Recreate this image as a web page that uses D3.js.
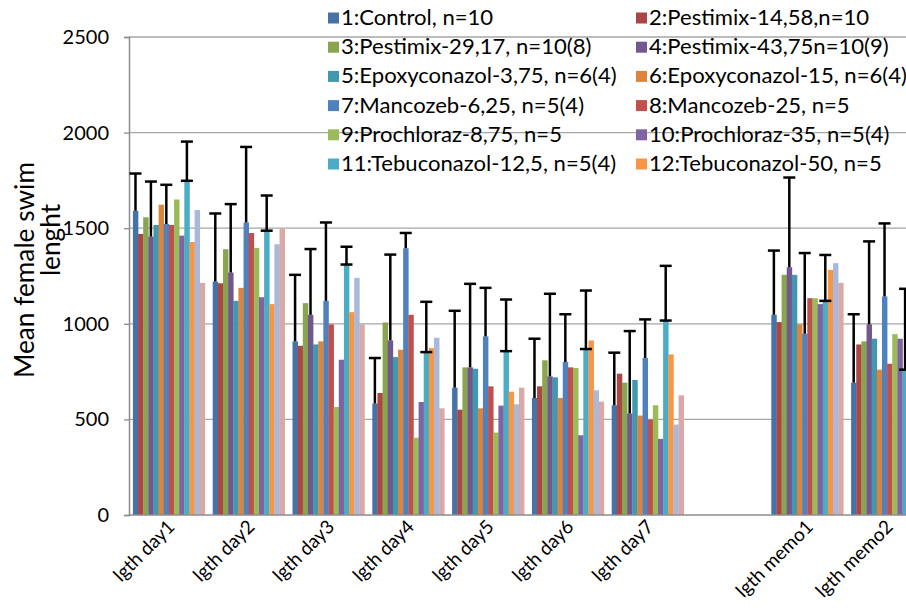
<!DOCTYPE html>
<html><head><meta charset="utf-8">
<script src="https://cdn.jsdelivr.net/npm/d3@7"></script>
<style>body{margin:0;background:#fff}svg{display:block}text{font-family:Lato,"Liberation Sans",sans-serif;fill:#000}</style>
</head><body>
<svg id="c" width="906" height="611"></svg>
<script>
const categories = ["lgth day1","lgth day2","lgth day3","lgth day4","lgth day5","lgth day6","lgth day7","","lgth memo1","lgth memo2"];
const seriesNames = ["1:Control, n=10","2:Pestimix-14,58,n=10","3:Pestimix-29,17, n=10(8)","4:Pestimix-43,75n=10(9)",
  "5:Epoxyconazol-3,75, n=6(4)","6:Epoxyconazol-15, n=6(4)","7:Mancozeb-6,25, n=5(4)","8:Mancozeb-25, n=5",
  "9:Prochloraz-8,75, n=5","10:Prochloraz-35, n=5(4)","11:Tebuconazol-12,5, n=5(4)","12:Tebuconazol-50, n=5","13","14"];
const s1  = [1591,1221, 908, 583, 666, 612, 574,null,1047, 692];
const s2  = [1470,1212, 885, 638, 551, 673, 739,null,1009, 892];
const s3  = [1557,1390,1108,1007, 772, 809, 692,null,1256, 908];
const s4  = [1456,1268,1047, 913, 772, 725, 531,null,1296, 997];
const s5  = [1517,1120, 892, 826, 765, 720, 706,null,1256, 922];
const s6  = [1623,1188, 908, 864, 558, 612, 520,null, 997, 760];
const s7  = [1522,1530,1120,1395, 934, 800, 821,null, 948,1143];
const s8  = [1517,1475, 997,1047, 673, 772, 499,null,1134, 791];
const s9  = [1650,1397, 565, 404, 431, 769, 574,null,1134, 946];
const s10 = [1461,1139, 812, 591, 572, 417, 398,null,1103, 922];
const s11 = [1748,1487,1310, 852, 857, 868,1017,null,1120, 760];
const s12 = [1428,1103,1061, 873, 645, 913, 840,null,1282,1040];
const s13 = [1595,1416,1240, 927, 579, 652, 473,null,1317, 900];
const s14 = [1214,1499, 997, 558, 666, 593, 626,null,1214, 850];
const seriesValues = [s1,s2,s3,s4,s5,s6,s7,s8,s9,s10,s11,s12,s13,s14];
// plus error amounts for series 1, 4, 7, 11
const err1  = [195,356,348,238,402,310,275,null,336,358];
const err4  = [288,358,344,449,437,432,431,null,469,434];
const err7  = [205,395,410, 80,254,250,202,null,422,382];
const err11 = [205,184, 93,263,270,306,286,null,240,423];
const errorSeries = [0,3,6,10];
const errorValues = [err1,err4,err7,err11];
const yTicks = [0,500,1000,1500,2000,2500];
const legendCount = 12;
const colors = ["#4572A7","#AA4643","#89A54E","#71588F","#4198AF","#DB843D",
  "#4F81BD","#C0504D","#9BBB59","#8064A2","#4BACC6","#F79646","#AAB9D9","#D9A9A8"];

const svg = d3.select("#c");
const L = 129, R = 927, T = 37, B = 515;
const x = d3.scaleBand().domain(categories.map((d,i)=>i)).range([L,R]).paddingInner(0.098).paddingOuter(0.049);
const xs = d3.scaleBand().domain(seriesNames.map((d,i)=>i)).range([0,x.bandwidth()]);
const y = d3.scaleLinear().domain([0,2500]).range([B,T]);

function fitSize(sel, target, base){
  const w = sel.node().getComputedTextLength();
  return base*target/w;
}

// gridlines
svg.append("g").selectAll("line").data(yTicks.filter(t=>t>0)).join("line")
  .attr("x1",L).attr("x2",906).attr("y1",d=>y(d)).attr("y2",d=>y(d))
  .attr("stroke","#a6a6a6").attr("stroke-width",1.3);

// y axis
const ya = svg.append("g").attr("transform",`translate(${L},0)`)
  .call(d3.axisLeft(y).tickValues(yTicks).tickFormat(d3.format("d")).tickSize(5).tickPadding(15));
ya.select(".domain").attr("stroke","#8c8c8c").attr("stroke-width",1.5);
ya.selectAll(".tick line").attr("stroke","#8c8c8c").attr("stroke-width",1.3);
ya.selectAll("text").attr("font-size",20).attr("font-family","Lato").attr("fill","#000");

// bars
const gs = svg.append("g").selectAll("g").data(seriesValues).join("g").attr("fill",(d,i)=>colors[i]);
gs.each(function(vals,si){
  d3.select(this).selectAll("rect").data(vals.map((v,ci)=>({v,ci})).filter(d=>d.v!=null)).join("rect")
    .attr("x",d=>x(d.ci)+xs(si)).attr("width",xs.bandwidth()+0.3)
    .attr("y",d=>y(d.v)).attr("height",d=>B-y(d.v));
});

// x axis line
svg.append("line").attr("x1",L).attr("x2",906).attr("y1",B).attr("y2",B).attr("stroke","#8c8c8c").attr("stroke-width",1.5);

// error bars
errorSeries.forEach((si,k)=>{
  const g = svg.append("g").attr("stroke","#000").attr("stroke-width",2.5);
  seriesValues[si].forEach((v,ci)=>{
    const e = errorValues[k][ci];
    if (v==null || e==null) return;
    const cx = x(ci)+xs(si)+xs.bandwidth()/2;
    g.append("line").attr("x1",cx).attr("x2",cx).attr("y1",y(v)).attr("y2",y(v+e));
    g.append("line").attr("x1",cx-6).attr("x2",cx+6).attr("y1",y(v+e)).attr("y2",y(v+e));
    if (si===10) g.append("line").attr("x1",cx-6).attr("x2",cx+6).attr("y1",y(v)).attr("y2",y(v));
  });
});

// x labels
svg.append("g").selectAll("text").data(categories.map((c,i)=>({c,i})).filter(d=>d.c)).join("text")
  .attr("transform",d=>`translate(${x(d.i)+x.bandwidth()/2+7},${B+13}) rotate(-45)`)
  .attr("text-anchor","end").attr("font-size",19).text(d=>d.c);

// y title
const t1 = svg.append("text").attr("font-size",24).attr("text-anchor","middle")
  .attr("transform","translate(34,270) rotate(-90)").text("Mean female swim");
const tfs = fitSize(t1, 216, 24);
t1.attr("font-size",tfs);
svg.append("text").attr("font-size",tfs).attr("text-anchor","middle")
  .attr("transform","translate(60,240) rotate(-90)").text("lenght");

// legend
const lg = svg.append("g").selectAll("g").data(seriesNames.slice(0,legendCount)).join("g")
  .attr("transform",(d,i)=>`translate(${i%2===0?328:636},${18+Math.floor(i/2)*29.2})`);
lg.append("rect").attr("x",0).attr("y",-5.5).attr("width",11).attr("height",11).attr("fill",(d,i)=>colors[i]);
const lt = lg.append("text").attr("x",13).attr("y",7).attr("font-size",20).text(d=>d);
const lfs = fitSize(lt.filter((d,i)=>i===8), 221, 20);
lt.attr("font-size",lfs);
</script>
</body></html>
